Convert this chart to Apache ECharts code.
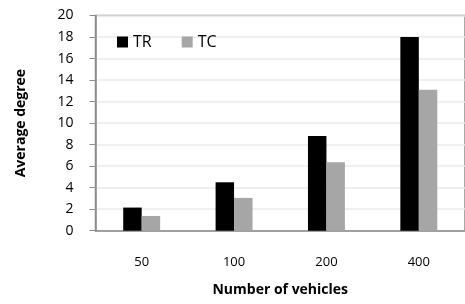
<!DOCTYPE html>
<html>
<head>
<meta charset="utf-8">
<script src="https://cdn.jsdelivr.net/npm/echarts@6/dist/echarts.min.js"></script>
<style>
  html, body { margin: 0; padding: 0; background: #fff; }
  #chart { width: 465px; height: 304px; }
</style>
</head>
<body>
<div id="chart"></div>
<script>
  // values
  var categories = ['50', '100', '200', '400']
  var trValues = [2.15, 4.5, 8.8, 18.0]
  var tcValues = [1.37, 3.05, 6.35, 13.1]
  var yTicks = { min: 0, max: 20, interval: 2 }

  var font = '"Open Sans", "Noto Sans", sans-serif'
  var chart = echarts.init(document.getElementById('chart'), null, { renderer: 'canvas' })

  var option = {
    animation: false,
    backgroundColor: '#fff',
    textStyle: { fontFamily: font },
    grid: {
      left: 95.5,
      top: 15.5,
      right: -2.5,
      bottom: 73.3,
      show: true,
      borderColor: '#8c8c8c',
      borderWidth: 1.5
    },
    legend: {
      left: 112,
      top: 29,
      itemWidth: 11,
      itemHeight: 11,
      itemGap: 30,
      icon: 'rect',
      textStyle: { fontSize: 16, color: '#000', fontFamily: font },
      data: ['TR', 'TC']
    },
    xAxis: {
      type: 'category',
      data: categories,
      name: 'Number of vehicles',
      nameLocation: 'middle',
      nameGap: 52,
      nameTextStyle: { fontSize: 14, fontWeight: 'bold', color: '#000' },
      axisLine: { lineStyle: { color: '#8c8c8c', width: 1.5 } },
      axisTick: { alignWithLabel: true, length: 4, lineStyle: { color: '#8c8c8c' } },
      axisLabel: { margin: 25, fontSize: 13, color: '#000' }
    },
    yAxis: {
      type: 'value',
      min: yTicks.min,
      max: yTicks.max,
      interval: yTicks.interval,
      name: 'Average degree',
      nameLocation: 'middle',
      nameGap: 67,
      nameTextStyle: { fontSize: 14, fontWeight: 'bold', color: '#000' },
      axisLine: { show: true, lineStyle: { color: '#8c8c8c', width: 1.5 } },
      axisTick: { show: true, length: 6, lineStyle: { color: '#8c8c8c' } },
      axisLabel: { margin: 22, fontSize: 14, color: '#000' },
      splitLine: { lineStyle: { color: '#ebebeb', width: 1.5 } }
    },
    series: [
      {
        name: 'TR',
        type: 'bar',
        data: trValues,
        barWidth: '20%',
        barGap: '0%',
        itemStyle: { color: '#000' }
      },
      {
        name: 'TC',
        type: 'bar',
        data: tcValues,
        barWidth: '20%',
        itemStyle: { color: '#a6a6a6' }
      }
    ]
  }
  chart.setOption(option)
</script>
</body>
</html>
